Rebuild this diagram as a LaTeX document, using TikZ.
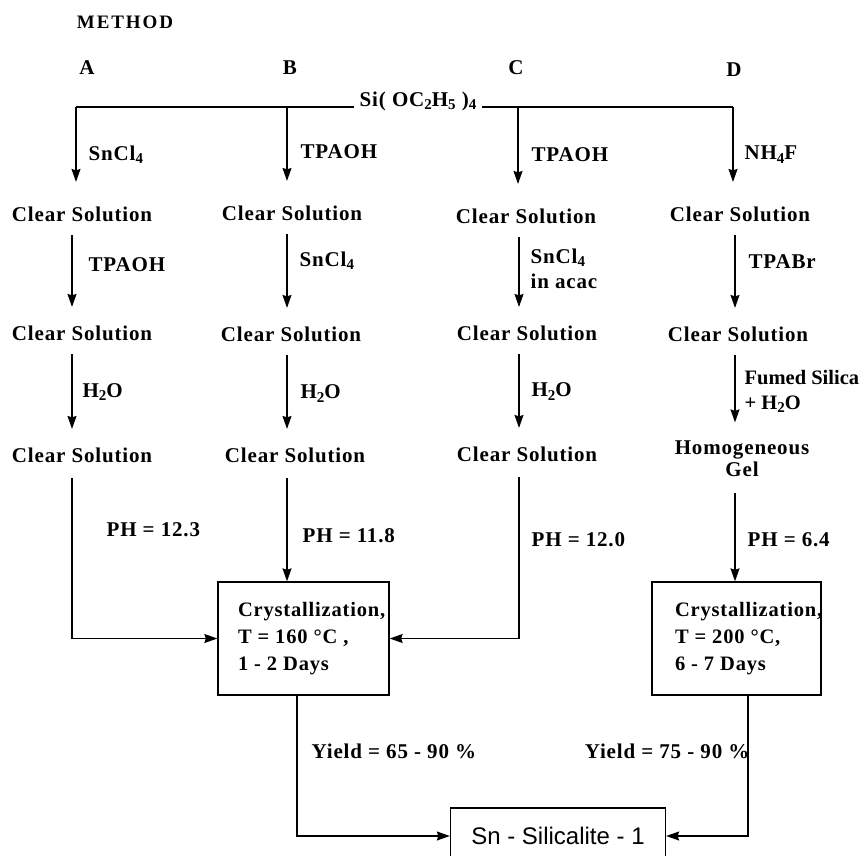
\documentclass[tikz,border=0pt]{standalone}
\usepackage{fontspec}
\setmainfont{Liberation Serif}[LetterSpace=4]
\newfontfamily\tightfont{Liberation Serif}
\newfontfamily\prodfont{Liberation Sans}
\usetikzlibrary{arrows.meta}
\newcommand\dn[1]{\raisebox{-0.35ex}{\fontsize{15}{15}\selectfont #1}}

\begin{document}
\begin{tikzpicture}[x=1pt,y=-1pt,line width=1.3pt,
  >={Stealth[length=13pt,width=9pt,inset=1.5pt]},
  txt/.style={font=\fontsize{21}{22}\selectfont\bfseries,inner sep=0pt},
  lab/.style={font=\fontsize{21}{25}\selectfont\bfseries,inner sep=0pt,anchor=west,align=left},
  arr/.style={->,shorten <=13pt,shorten >=18pt},
  drop/.style={->,shorten >=24pt},
  feed/.style={->,shorten <=15pt},
  crybox/.style={draw,minimum width=171pt,minimum height=113pt},
  crytxt/.style={font=\fontsize{20.5}{27}\selectfont\bfseries,inner sep=0pt,anchor=west,align=left}]
  \useasboundingbox (0,0) rectangle (868,855);
  % headings
  \node[txt,font=\fontsize{19}{22}\selectfont\bfseries\addfontfeatures{LetterSpace=10}] (meth) at (125,22) {METHOD};
  \node[txt] (hA) at (87,68) {A};
  \node[txt] (hB) at (290,68) {B};
  \node[txt] (hC) at (516,68) {C};
  \node[txt] (hD) at (734,70) {D};
  % source
  \node[txt,inner sep=5pt] (si) at (418,101) {Si( OC\dn{2}H\dn{5} )\dn{4}};
  \coordinate (tA) at (76,107); \coordinate (tB) at (287,107);
  \coordinate (tC) at (518,107); \coordinate (tD) at (733,107);
  \coordinate (xa) at (72,0); \coordinate (xb) at (287,0);
  \coordinate (xc) at (519,0); \coordinate (xd) at (735,0);
  \coordinate (xl) at (297,0); \coordinate (xr) at (748,0);
  % method A
  \node[txt] (a1) at (82,214) {Clear Solution};
  \node[txt] (a2) at (82,333) {Clear Solution};
  \node[txt] (a3) at (82,455) {Clear Solution};
  % method B
  \node[txt] (b1) at (292,213) {Clear Solution};
  \node[txt] (b2) at (291,334) {Clear Solution};
  \node[txt] (b3) at (295,455) {Clear Solution};
  % method C
  \node[txt] (c1) at (526,216) {Clear Solution};
  \node[txt] (c2) at (527,333) {Clear Solution};
  \node[txt] (c3) at (527,454) {Clear Solution};
  % method D
  \node[txt] (d1) at (740,214) {Clear Solution};
  \node[txt] (d2) at (738,334) {Clear Solution};
  \node[txt,align=center] (gel) at (742,459) {Homogeneous\\Gel};
  % crystallization
  \node[crybox] (cryA) at (303.5,638.5) {};
  \node[crytxt] (cryAt) at ([xshift=20pt]cryA.west) {Crystallization,\\T = 160 °C ,\\1 - 2 Days};
  \node[crybox,minimum width=169pt] (cryD) at (736.5,638.5) {};
  \node[crytxt] (cryDt) at ([xshift=23pt]cryD.west) {Crystallization,\\T = 200 °C,\\6 - 7 Days};
  % product
  \node[draw,font=\prodfont\fontsize{24}{26}\selectfont,minimum width=215pt,minimum height=56pt] (prod) at (558,836) {Sn - Silicalite - 1};
  % arrows from the source
  \draw (tA) -- (tA -| si.west);
  \draw (si.east |- tD) -- (tD);
  \draw[drop] (tA) -- (a1.north -| tA) node[lab,pos=.48,xshift=12pt] {SnCl\dn{4}};
  \draw[drop] (tB) -- (b1.north -| tB) node[lab,pos=.46,xshift=13pt] {TPAOH};
  \draw[drop] (tC) -- (c1.north -| tC) node[lab,pos=.47,xshift=13pt] {TPAOH};
  \draw[drop] (tD) -- (d1.north -| tD) node[lab,pos=.48,xshift=11pt] {NH\dn{4}F};
  % steps
  \draw[arr] (a1.south -| xa) -- (a2.north -| xa) node[lab,pos=.41,xshift=16pt] {TPAOH};
  \draw[arr] (a2.south -| xa) -- (a3.north -| xa) node[lab,pos=.48,xshift=10pt] {H\dn{2}O};
  \draw[arr] (b1.south -| xb) -- (b2.north -| xb) node[lab,pos=.38,xshift=12pt] {SnCl\dn{4}};
  \draw[arr] (b2.south -| xb) -- (b3.north -| xb) node[lab,pos=.49,xshift=13pt] {H\dn{2}O};
  \draw[arr] (c1.south -| xc) -- (c2.north -| xc) node[lab,pos=.44,xshift=11pt] {SnCl\dn{4}\\in acac};
  \draw[arr] (c2.south -| xc) -- (c3.north -| xc) node[lab,pos=.48,xshift=12pt] {H\dn{2}O};
  \draw[arr] (d1.south -| xd) -- (d2.north -| xd) node[lab,pos=.38,xshift=13pt] {TPABr};
  \draw[arr] (d2.south -| xd) -- (gel.north -| xd) node[lab,pos=.5,xshift=9pt,font=\tightfont\fontsize{20.5}{25}\selectfont\bfseries] {Fumed Silica\\+ H\dn{2}O};
  % to crystallization
  \draw[feed] (a3.south -| xa) |- (cryA.west) node[lab,pos=.19,xshift=34pt] {PH = 12.3};
  \draw[feed] (b3.south -| xb) -- (cryA.north -| xb) node[lab,pos=.61,xshift=15pt] {PH = 11.8};
  \draw[feed] (c3.south -| xc) |- (cryA.east) node[lab,pos=.22,xshift=12pt] {PH = 12.0};
  \draw[feed] (gel.south -| xd) -- (cryD.north -| xd) node[lab,pos=.6,xshift=12pt] {PH = 6.4};
  % to product
  \draw[->] (cryA.south -| xl) |- (prod.west) node[lab,pos=.2,xshift=14pt] {Yield = 65 - 90 \%};
  \draw[->] (cryD.south -| xr) |- (prod.east) node[lab,anchor=east,pos=.2,xshift=2pt] {Yield = 75 - 90 \%};
\end{tikzpicture}
\end{document}
